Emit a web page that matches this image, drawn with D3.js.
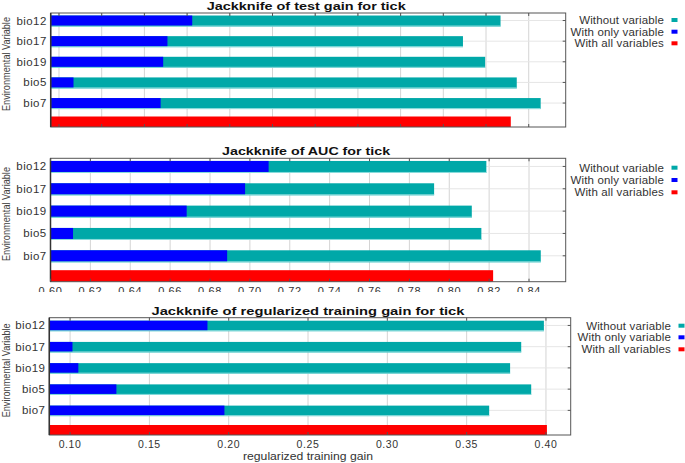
<!DOCTYPE html>
<html><head><meta charset="utf-8">
<script src="https://cdn.jsdelivr.net/npm/d3@7"></script>
<style>body{margin:0;background:#fff}svg{display:block}text{font-family:"Liberation Sans",Arial,sans-serif}</style>
</head><body>
<script>
const variables = ["bio12","bio17","bio19","bio5","bio7"];
const legendLabels = ["Without variable","With only variable","With all variables"];
const legendColors = ["#00a8a8","#0000ff","#ff0000"];

const testWithout = [0.517,0.473,0.499,0.536,0.564];
const testOnly    = [0.156,0.127,0.122,0.017,0.119];
const testAll     = 0.529;
const testTicks   = [0.00,0.05,0.10,0.15,0.20,0.25,0.30,0.35,0.40,0.45,0.50,0.55];

const aucWithout = [0.8186,0.7924,0.8113,0.8161,0.8459];
const aucOnly    = [0.7094,0.6976,0.6683,0.6113,0.6886];
const aucAll     = 0.8220;
const aucTicks   = [0.60,0.62,0.64,0.66,0.68,0.70,0.72,0.74,0.76,0.78,0.80,0.82,0.84];

const trainWithout = [0.3987,0.3844,0.3774,0.3907,0.3642];
const trainOnly    = [0.1866,0.1015,0.1052,0.1292,0.1973];
const trainAll     = 0.4006;
const trainTicks   = [0.10,0.15,0.20,0.25,0.30,0.35,0.40];

const W = 685, H = 463;
const svg = d3.select("body").append("svg").attr("width",W).attr("height",H);

const panels = [
  {title:"Jackknife of test gain for tick", titleW:199, titleY:9.5,
   without:testWithout, only:testOnly, all:testAll, ticks:testTicks,
   domain:[-0.0097,0.5933], x0:50.7, x1:565.7, y0:13, y1:127, barH:10,
   showLabels:false, clipLabels:false, legX:664, legY:[20,31.7,43.3], legDy:0},
  {title:"Jackknife of AUC for tick", titleW:168, titleY:155,
   without:aucWithout, only:aucOnly, all:aucAll, ticks:aucTicks,
   domain:[0.6,0.8584], x0:50.5, x1:565.7, y0:158.3, y1:281.7, barH:11,
   showLabels:true, clipLabels:true, legX:664, legY:[167.7,180,192.3], fmt:d3.format(".2f")},
  {title:"Jackknife of regularized training gain for tick", titleW:313, titleY:314.5,
   without:trainWithout, only:trainOnly, all:trainAll, ticks:trainTicks,
   domain:[0.0869,0.4156], x0:49.3, x1:570.7, y0:317.7, y1:435, barH:9.5,
   showLabels:true, clipLabels:false, legX:671, legY:[325.7,337.3,349.3], fmt:d3.format(".2f"),
   xTitle:"regularized training gain"}
];

const defs = svg.append("defs");
defs.append("clipPath").attr("id","auclip").append("rect")
  .attr("x",0).attr("y",283).attr("width",W).attr("height",9);

panels.forEach((p,pi)=>{
  const g = svg.append("g");
  const x = d3.scaleLinear().domain(p.domain).range([p.x0,p.x1]);
  const ph = p.y1-p.y0;
  const y = d3.scalePoint().domain(variables).range([p.y0+0.066*ph, p.y0+0.066*ph+4*0.181*ph]);

  // grid
  g.selectAll(".vg").data(p.ticks).join("line")
    .attr("x1",d=>x(d)).attr("x2",d=>x(d)).attr("y1",p.y0).attr("y2",p.y1)
    .attr("stroke","#d4d4d4").attr("stroke-width",1);
  g.selectAll(".hg").data(variables).join("line")
    .attr("x1",p.x0).attr("x2",p.x1).attr("y1",d=>y(d)).attr("y2",d=>y(d))
    .attr("stroke","#e6e6e6").attr("stroke-width",1);

  // bars
  g.selectAll(".wo").data(variables).join("rect")
    .attr("x",p.x0).attr("y",d=>y(d)-p.barH/2)
    .attr("width",(d,i)=>x(p.without[i])-p.x0).attr("height",p.barH+1)
    .attr("fill","#00a8a8");
  g.selectAll(".wo2").data(variables).join("rect")
    .attr("x",p.x0).attr("y",d=>y(d)+p.barH/2)
    .attr("width",(d,i)=>x(p.without[i])-p.x0).attr("height",1)
    .attr("fill","#8fdede");
  g.selectAll(".on").data(variables).join("rect")
    .attr("x",p.x0).attr("y",d=>y(d)-p.barH/2)
    .attr("width",(d,i)=>x(p.only[i])-p.x0).attr("height",p.barH)
    .attr("fill","#0000ff");
  g.append("rect").attr("x",p.x0).attr("y",p.y1-p.barH-0.5)
    .attr("width",x(p.all)-p.x0).attr("height",p.barH+0.5).attr("fill","#ff0000");

  // frame
  g.append("rect").attr("x",p.x0).attr("y",p.y0).attr("width",p.x1-p.x0).attr("height",ph)
    .attr("fill","none").attr("stroke","#555").attr("stroke-width",1);
  g.append("line").attr("x1",p.x0).attr("x2",p.x0).attr("y1",p.y0).attr("y2",p.y1)
    .attr("stroke","#333").attr("stroke-width",1.5);
  // inward ticks
  g.selectAll(".tt").data(p.ticks).join("line")
    .attr("x1",d=>x(d)).attr("x2",d=>x(d)).attr("y1",p.y0).attr("y2",p.y0+3)
    .attr("stroke","#555");
  g.selectAll(".bt").data(p.ticks).join("line")
    .attr("x1",d=>x(d)).attr("x2",d=>x(d)).attr("y1",p.y1).attr("y2",p.y1-3)
    .attr("stroke","#555");
  g.selectAll(".rt").data(variables).join("line")
    .attr("x1",p.x1).attr("x2",p.x1-3).attr("y1",d=>y(d)).attr("y2",d=>y(d))
    .attr("stroke","#555");

  // category labels
  g.selectAll(".yl").data(variables).join("text")
    .attr("x",p.x0-4).attr("y",d=>y(d)).attr("dy","0.35em")
    .attr("text-anchor","end").attr("font-size",11.5).attr("fill","#333")
    .attr("letter-spacing",0.4).text(d=>d);

  // y axis title
  const cy = (p.y0+p.y1)/2 - 6;
  g.append("text").attr("transform",`translate(10,${cy}) rotate(-90)`)
    .attr("text-anchor","middle").attr("font-size",10).attr("fill","#444")
    .attr("textLength",94).attr("lengthAdjust","spacingAndGlyphs")
    .text("Environmental Variable");

  // title
  g.append("text").attr("x",(p.x0+p.x1)/2-2).attr("y",p.titleY)
    .attr("text-anchor","middle").attr("font-size",11.5).attr("font-weight","bold")
    .attr("fill","#111").attr("textLength",p.titleW).attr("lengthAdjust","spacingAndGlyphs")
    .text(p.title);

  // tick labels
  if(p.showLabels){
    const lg = g.append("g");
    if(p.clipLabels) lg.attr("clip-path","url(#auclip)");
    const ly = p.clipLabels ? p.y1+13.5 : p.y1+13;
    lg.selectAll("text").data(p.ticks).join("text")
      .attr("x",d=>x(d)).attr("y",ly).attr("text-anchor","middle")
      .attr("font-size",p.clipLabels?11:10.5).attr("fill","#333").attr("letter-spacing",0.6)
      .text(d=>p.fmt(d));
  }
  if(p.xTitle){
    g.append("text").attr("x",(p.x0+p.x1)/2-2).attr("y",p.y1+24.5)
      .attr("text-anchor","middle").attr("font-size",10).attr("fill","#333")
      .attr("textLength",130).attr("lengthAdjust","spacingAndGlyphs").text(p.xTitle);
  }

  // legend
  legendLabels.forEach((lab,i)=>{
    g.append("text").attr("x",p.legX).attr("y",p.legY[i]).attr("dy","0.35em")
      .attr("text-anchor","end").attr("font-size",11.5).attr("fill","#333")
      .attr("letter-spacing",0.15).text(lab);
    g.append("rect").attr("x",p.legX+7.5).attr("y",p.legY[i]-2).attr("width",6).attr("height",4)
      .attr("fill",legendColors[i]);
  });
});
</script>
</body></html>
